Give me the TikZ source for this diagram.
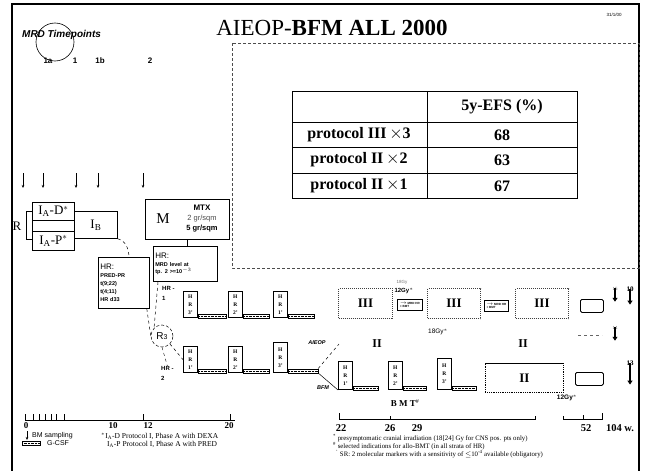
\documentclass[tikz,border=0pt]{standalone}
\usepackage{fontspec}
\setmainfont{Liberation Serif}
\setsansfont{Liberation Sans}
\usetikzlibrary{arrows.meta, positioning, calc}

\begin{document}
\begin{tikzpicture}[x=1pt, y=-1pt,
    box/.style={draw, line width=0.8pt, inner sep=0pt, anchor=north west},
    dbox/.style={draw=black!75, densely dotted, line width=1pt, inner sep=0pt, anchor=north west,
      font=\bfseries\fontsize{13}{13}\selectfont},
    tinybox/.style={draw, line width=0.7pt, inner sep=0.8pt, anchor=north west, align=left,
      font=\sffamily\bfseries\fontsize{3}{3.6}\selectfont},
    hrblk/.style={draw, line width=0.7pt, minimum width=14, inner sep=0pt, anchor=south west,
      align=center, font=\bfseries\fontsize{5.5}{8}\selectfont},
    gcsf/.style={draw, line width=0.5pt, minimum height=4, inner sep=0pt, anchor=south west,
      path picture={\draw[densely dotted, line width=0.4pt] (path picture bounding box.west) -- (path picture bounding box.east);}},
    prot/.style={font=\fontsize{13}{13}\selectfont},
    lbl/.style={font=\sffamily\bfseries\fontsize{#1}{#1}\selectfont, inner sep=0pt},
    faint/.style={font=\sffamily\fontsize{4.5}{4.5}\selectfont, text=black!55, inner sep=0pt},
    fnote/.style={anchor=west, font=\fontsize{6.8}{6.8}\selectfont, inner sep=0pt},
    tabtxt/.style={font=\bfseries\fontsize{16}{16}\selectfont},
    bmarr/.style={line width=0.4pt, -{Stealth[length=3pt, width=2.5pt]}},
    tharr/.style={line width=1.6pt, -{Triangle[length=4pt, width=5pt]}}]
  \useasboundingbox (0,0) rectangle (645,471);

  % frame
  \draw[line width=1.2pt] (12,471) -- (12,4) -- (639,4) -- (639,471);
  \draw[line width=2.5pt] (12,4) -- (12,471);
  \draw[line width=2pt] (639,4) -- (639,471);

  % title
  \node[anchor=base, inner sep=0pt] (title) at (332,35) {\fontsize{23}{23}\selectfont AIEOP-\textbf{BFM ALL 2000}};
  \node[faint, text=black] (date) at (614,15) {31/1/00};

  % MRD timepoints
  \node[anchor=west, inner sep=0pt, font=\sffamily\bfseries\itshape\fontsize{10}{10}\selectfont] (mrd) at (22,35) {MRD Timepoints};
  \node[circle, draw, line width=0.6pt, minimum size=38] (mrdring) at (55,42) {};
  \foreach \x/\t in {48/1a, 75/1, 100/1b, 150/2}
    \node[lbl=8] (tp\t) at (\x,61) {\t};
  \foreach \x in {23,43,76,98,143}
    \draw[bmarr] (\x,173) -- (\x,188);

  % protocol I and M
  \node[box, prot, minimum width=42, minimum height=18] (iad) at (32,202) {I\textsubscript{A}-D$^{*}$};
  \node[box, minimum width=42, minimum height=11] (iamid) at (32,220) {};
  \node[box, prot, minimum width=42, minimum height=19] (iap) at (32,231) {I\textsubscript{A}-P$^{*}$};
  \node[box, prot, minimum width=43, minimum height=27] (ib) at (74,211) {I\textsubscript{B}};
  \node[prot] (rand) at (17,226) {R};
  \draw[line width=0.6pt] (iad.west |- ib.north) -- ++(-6,0) |- (iad.west |- ib.south);

  \node[box, minimum width=84, minimum height=40] (mbox) at (145,199) {};
  \node[font=\fontsize{15}{15}\selectfont] (mlbl) at (163,219) {M};
  \node[lbl=8] (mtx) at (202,208) {MTX};
  \node[font=\sffamily\fontsize{7.5}{7.5}\selectfont, text=black!70, inner sep=0pt] (dose2) at (202,219) {2 gr/sqm};
  \node[lbl=7.5] (dose5) at (202,229) {5 gr/sqm};

  % HR criteria
  \node[box, minimum width=64, minimum height=35, text width=60, align=left, inner sep=2pt,
    font=\sffamily\bfseries\fontsize{5.5}{7.5}\selectfont] (hrmrd) at (153,246)
    {{\mdseries\fontsize{8}{9}\selectfont HR:}\\MRD level at\\tp. 2 >=10$^{-3}$};
  \draw[line width=0.6pt] (mbox.south) -- (mbox.south |- hrmrd.north);
  \node[box, minimum width=51, minimum height=51, text width=47, align=left, inner sep=2pt,
    font=\sffamily\bfseries\fontsize{5.5}{8}\selectfont] (hrpred) at (98,257)
    {{\mdseries\fontsize{8}{9}\selectfont HR:}\\PRED-PR\\t(9;22)\\t(4;11)\\HR d33};
  \draw[dashed, line width=0.5pt] (ib.south east) .. controls +(8,2) and +(0,-8) .. ([xshift=5]hrpred.north);

  % randomisation R3
  \node[circle, draw, densely dashed, line width=0.5pt, minimum size=22, inner sep=0pt,
    font=\sffamily\fontsize{10}{10}\selectfont] (r3) at (162,336) {R{\fontsize{7}{7}\selectfont 3}};
  \node[anchor=north west, align=left, inner sep=0pt, font=\sffamily\bfseries\fontsize{6}{10}\selectfont] (hr1lbl) at (162,286) {HR -\\1};
  \node[anchor=north west, align=left, inner sep=0pt, font=\sffamily\bfseries\fontsize{6}{10}\selectfont] (hr2lbl) at (161,366) {HR -\\2};
  \draw[dashed, line width=0.5pt] ([xshift=5]hrmrd.south west) -- (r3.north west);
  \draw[dashed, line width=0.5pt] ([xshift=-3]hrpred.south east) -- (r3.west);

  % HR blocks
  \foreach \x/\lab/\len [count=\i] in {183/3/28, 228/2/26, 273/1/26} {
    \node[hrblk, minimum height=26] (hra\i) at (\x,318) {H\\R\\\lab'};
    \node[gcsf, minimum width=\len] (gha\i) at (hra\i.south east) {};
  }
  \foreach \x/\lab/\len/\h [count=\i] in {183/1/28/26, 228/2/26/26, 273/3/30/30} {
    \node[hrblk, minimum height=\h] (hrb\i) at (\x,373) {H\\R\\\lab'};
    \node[gcsf, minimum width=\len] (ghb\i) at (hrb\i.south east) {};
  }
  \foreach \x/\lab/\len/\h [count=\i] in {338/1/25/28, 388/2/23/28, 437/3/24/31} {
    \node[hrblk, minimum height=\h] (bfm\i) at (\x,390) {H\\R\\\lab'};
    \node[gcsf, minimum width=\len] (ghc\i) at (bfm\i.south east) {};
  }
  \draw[dashed, line width=0.5pt] (r3.south east) -- (hrb1.west);
  \draw[dashed, line width=0.4pt] (r3.south) -- (hr2lbl.north);

  % AIEOP / BFM split
  \node[font=\sffamily\bfseries\itshape\fontsize{5.5}{5.5}\selectfont, inner sep=0pt] (aieop) at (317,343) {AIEOP};
  \node[font=\sffamily\bfseries\itshape\fontsize{5.5}{5.5}\selectfont, inner sep=0pt] (bfm) at (323,388) {BFM};
  \coordinate (aieopend) at (339,344);
  \draw[dashed, line width=0.5pt] (ghb3.north east) -- (aieopend);
  \draw[line width=0.5pt] (ghb3.south east) -- (bfm1.south west);

  % AIEOP arm
  \node[dbox, minimum width=54, minimum height=30] (p3a) at (338,288) {III};
  \node[tinybox, minimum width=25, minimum height=11] (mrda) at (397,299) {$\to$ MRD HR\\+ BMT};
  \node[dbox, minimum width=53, minimum height=30] (p3b) at (427,288) {III};
  \node[tinybox, minimum width=24, minimum height=11] (mrdb) at (484,300) {$\to$ MRD HR\\+ BMT};
  \node[dbox, minimum width=53, minimum height=30] (p3c) at (515,288) {III};
  \node[box, rounded corners=1.5pt, minimum width=23, minimum height=13] (enda) at (580,299) {};
  \node[faint] (gy18a) at (402,282) {18Gy};
  \node[lbl=6] (gy12a) at (404,291) {12Gy$^{*}$};
  \node[font=\bfseries\fontsize{12}{12}\selectfont] (p2a) at (377,344) {II};
  \node[font=\bfseries\fontsize{12}{12}\selectfont] (p2b) at (523,344) {II};
  \node[font=\sffamily\fontsize{6.5}{6.5}\selectfont, inner sep=0pt] (gy18b) at (438,332) {18Gy$^{*}$};
  \draw[dashed, line width=0.5pt, black!60] (578,335) -- (602,335);

  % BFM arm
  \node[box, densely dotted, minimum width=78, minimum height=29, font=\bfseries\fontsize{13}{13}\selectfont] (p2c) at (485,363) {II};
  \draw[line width=1pt] (p2c.north west) -- (p2c.north east);
  \node[box, rounded corners=1.5pt, minimum width=28, minimum height=13] (endb) at (575,372) {};
  \node[lbl=6.5] (gy12b) at (567,398) {12Gy$^{*}$};

  % week arrows on the right
  \node[faint] (wk15) at (615,289) {15};
  \draw[tharr, line width=1.2pt] ([yshift=3]wk15.south) -- ++(0,14);
  \node[font=\bfseries\fontsize{7}{7}\selectfont, inner sep=0pt] (wk10) at (630,289) {10};
  \draw[tharr] ([yshift=3]wk10.south) -- ++(0,16);
  \node[faint] (wk14) at (615,328) {14};
  \draw[tharr, line width=1.2pt] ([yshift=3]wk14.south) -- ++(0,14);
  \node[font=\bfseries\fontsize{7}{7}\selectfont, inner sep=0pt] (wk13) at (630,363) {13};
  \draw[tharr] ([yshift=3]wk13.south) -- ++(0,22);

  % time axis, weeks 0-20
  \draw[line width=0.5pt] (25,420) -- (235,420);
  \foreach \x in {25,33,39,45,51,56,64,143,230}
    \draw[line width=0.5pt] (\x,420) -- (\x,414);
  \foreach \x/\w in {26/0, 113/10, 148/12, 229/20}
    \node[font=\bfseries\fontsize{9}{9}\selectfont, inner sep=0pt] (wl\w) at (\x,426) {\w};

  % legend
  \draw[bmarr] (27,431) -- (27,440);
  \node[anchor=west, font=\sffamily\fontsize{7}{7}\selectfont, inner sep=0pt] (legbm) at (32,436) {BM sampling};
  \node[gcsf, minimum width=18] (legbar) at (22,445) {};
  \node[anchor=west, font=\sffamily\fontsize{7}{7}\selectfont, inner sep=0pt] (legg) at (47,443) {G-CSF};
  \node[anchor=west, font=\fontsize{7.5}{7.5}\selectfont, inner sep=0pt] (legd) at (101,436) {$^{*}$I\textsubscript{A}-D Protocol I, Phase A with DEXA};
  \node[anchor=west, font=\fontsize{7.5}{7.5}\selectfont, inner sep=0pt] (legp) at (107,444) {I\textsubscript{A}-P Protocol I, Phase A with PRED};

  % time axis, weeks 22-104
  \draw[line width=0.5pt] (339,413) -- (339,419) -- (535,419) -- (535,416);
  \draw[line width=0.5pt] (390,419) -- (390,416);
  \draw[line width=0.5pt] (563,416) -- (563,419) -- (602,419) -- (602,413);
  \draw[line width=0.5pt] (583,419) -- (583,415);
  \node[font=\bfseries\fontsize{9}{9}\selectfont] (bmt) at (405,403) {B M T$^{\#}$};
  \foreach \x/\w in {341/22, 390/26, 417/29, 586/52}
    \node[font=\bfseries\fontsize{10.5}{10.5}\selectfont, inner sep=0pt] (wr\w) at (\x,428) {\w};
  \node[font=\bfseries\fontsize{10.5}{10.5}\selectfont, inner sep=0pt] (wr104) at (620,428) {104 w.};
  \node[fnote] (fn1) at (333,438) {\textsuperscript{*} presymptomatic cranial irradiation (18[24] Gy for CNS pos. pts only)};
  \node[fnote] (fn2) at (333,446) {\textsuperscript{\#} selected indications for allo-BMT (in all strata of HR)};
  \node[fnote] (fn3) at (336,454) {\textsuperscript{'} SR: 2 molecular markers with a sensitivity of $\leq$10\textsuperscript{-4} available (obligatory)};

  % overlay panel with results table
  \draw[densely dashed, line width=0.6pt, black!70] (232,43) rectangle (639,268);
  \draw[line width=1pt] (292,91) rectangle (577,198);
  \draw[line width=1pt] (427,91) -- (427,198);
  \foreach \y in {122,147,173}
    \draw[line width=0.9pt] (292,\y) -- (577,\y);
  \node[tabtxt] (efs) at (502,107) {5y-EFS (\%)};
  \node[tabtxt] (rowa) at (359,135) {protocol III\,$\times$3};
  \node[tabtxt] (rowb) at (359,160) {protocol II\,$\times$2};
  \node[tabtxt] (rowc) at (359,186) {protocol II\,$\times$1};
  \node[tabtxt] (vala) at (502,135) {68};
  \node[tabtxt] (valb) at (502,160) {63};
  \node[tabtxt] (valc) at (502,186) {67};
\end{tikzpicture}
\end{document}
